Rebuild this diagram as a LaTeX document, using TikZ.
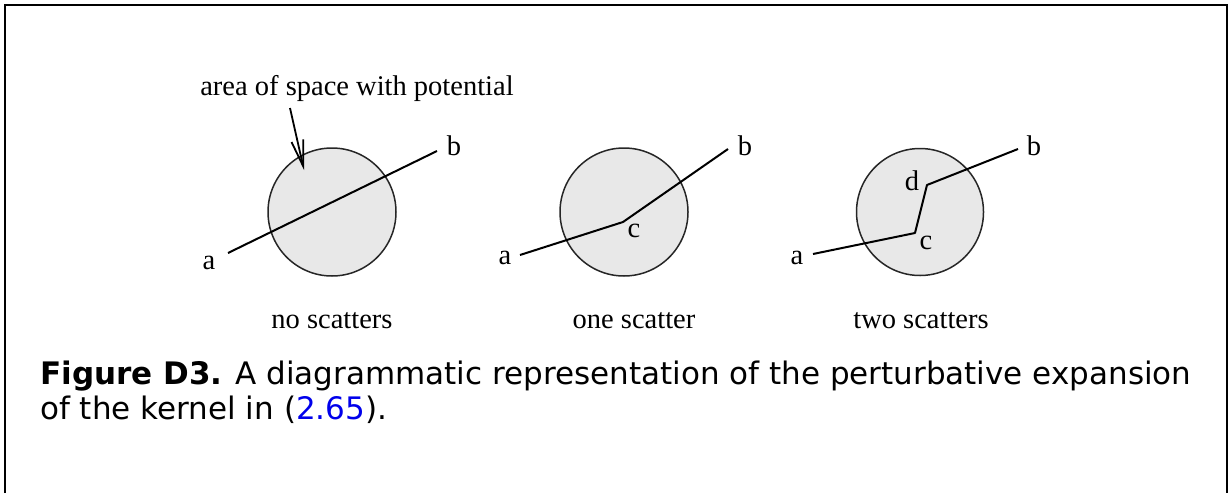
\documentclass[tikz,border=0pt]{standalone}
\usepackage{fontspec}
\setmainfont{Liberation Serif}
\newfontfamily\capfont{DejaVu Sans}
\usetikzlibrary{arrows.meta}
\definecolor{fillgray}{RGB}{232,232,232}
\definecolor{linkblue}{RGB}{0,0,235}
\begin{document}
\begin{tikzpicture}[x=1pt,y=-1pt,
  region/.style={draw=black!85,fill=fillgray,line width=1.5pt},
  path line/.style={draw=black,line width=2pt},
  lbl/.style={font=\fontsize{28.5}{30}\selectfont,inner sep=0pt},
  sublabel/.style={font=\fontsize{28.5}{30}\selectfont,inner sep=0pt,anchor=base},
  capline/.style={font=\capfont\fontsize{31}{35}\selectfont,inner sep=0pt,anchor=base west}]
\useasboundingbox (0,0) rectangle (1231,493);
\draw[line width=2pt] (5,493) -- (5,5) -- (1227,5) -- (1227,493);
% diagram 1
\node[region,circle,minimum size=128pt,inner sep=0pt] (c1) at (332,212) {};
\coordinate (a1) at (228,253);
\coordinate (b1) at (437,151);
\draw[path line] (a1) -- (b1);
\node[lbl] (la1) at (209,263) {a};
\node[lbl] (lb1) at (454,146) {b};
\node[lbl] (area) at (357,88) {area of space with potential};
\coordinate (t1) at (290,108);
\coordinate (h1) at (304,170);
\draw[line width=1.8pt,-{Straight Barb[length=26pt,width=12pt,line width=1.8pt]}] (t1) -- (h1);
\node[sublabel] (n1) at (332,328) {no scatters};
% diagram 2
\node[region,circle,minimum size=128pt,inner sep=0pt] (c2) at (624,212) {};
\coordinate (a2) at (520,255);
\coordinate (s2) at (623,222);
\coordinate (b2) at (728,149);
\draw[path line,line join=round] (a2) -- (s2) -- (b2);
\node[lbl] (la2) at (505,258) {a};
\node[lbl] (lb2) at (745,146) {b};
\node[lbl] (lc2) at (634,231) {c};
\node[sublabel] (n2) at (634,328) {one scatter};
% diagram 3
\node[region,circle,minimum size=127pt,inner sep=0pt] (c3) at (920,212) {};
\coordinate (a3) at (813,254);
\coordinate (s3) at (915,233);
\coordinate (d3) at (927,185);
\coordinate (b3) at (1018,149);
\draw[path line,line join=round] (a3) -- (s3) -- (d3) -- (b3);
\node[lbl] (la3) at (797,258) {a};
\node[lbl] (lb3) at (1034,146) {b};
\node[lbl] (lc3) at (926,243) {c};
\node[lbl] (ld3) at (912,181) {d};
\node[sublabel] (n3) at (921,328) {two scatters};
% caption
\node[capline] (cap1) at (40,384) {\textbf{Figure D3.} A diagrammatic representation of the perturbative expansion};
\node[capline] (cap2) at (40,419) {of the kernel in (\textcolor{linkblue}{2.65}).};
\end{tikzpicture}
\end{document}
